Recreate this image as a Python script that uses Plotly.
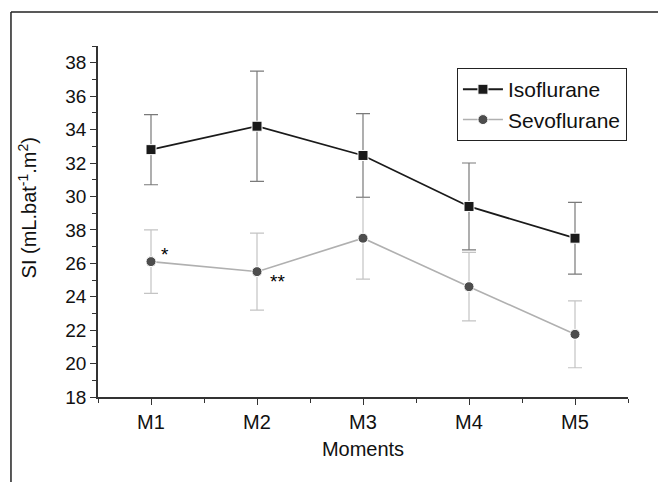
import plotly.graph_objects as go

moments = ["M1", "M2", "M3", "M4", "M5"]
x_pos = [1, 2, 3, 4, 5]

iso_mean = [32.8, 34.2, 32.45, 29.4, 27.5]
iso_sd = [2.1, 3.3, 2.5, 2.6, 2.15]

sevo_mean = [26.1, 25.5, 27.5, 24.6, 21.75]
sevo_sd = [1.9, 2.3, 2.45, 2.05, 2.0]

y_tickvals = [18, 20, 22, 24, 26, 28, 30, 32, 34, 36, 38]
y_ticktext = ["18", "20", "22", "24", "26", "38", "30", "32", "34", "36", "38"]

FONT = "Liberation Sans, Arial, sans-serif"

fig = go.Figure()

fig.add_trace(go.Scatter(
    x=x_pos, y=sevo_mean, name="Sevoflurane", mode="lines+markers",
    line=dict(color="#b0b0b0", width=1.6),
    marker=dict(symbol="circle", size=10, color="#4d4d4d", line=dict(color="white", width=1)),
    error_y=dict(type="data", array=sevo_sd, visible=True, color="#c4c4c4", thickness=1.2, width=7),
))
fig.add_trace(go.Scatter(
    x=x_pos, y=iso_mean, name="Isoflurane", mode="lines+markers",
    line=dict(color="#1a1a1a", width=1.8),
    marker=dict(symbol="square", size=10, color="#1a1a1a", line=dict(color="white", width=1)),
    error_y=dict(type="data", array=iso_sd, visible=True, color="#7a7a7a", thickness=1.2, width=7),
))

# significance markers next to Sevoflurane points
fig.add_annotation(x=x_pos[0] + 0.13, y=sevo_mean[0] + 0.45, text="*", showarrow=False,
                   font=dict(family=FONT, size=19, color="black"))
fig.add_annotation(x=x_pos[1] + 0.19, y=sevo_mean[1] - 0.6, text="**", showarrow=False,
                   font=dict(family=FONT, size=19, color="black"))

# y-axis title placed as rotated text
fig.add_annotation(xref="paper", yref="paper", x=-0.134, y=0.54, xanchor="center", yanchor="middle",
                   text="SI (mL.bat<sup>-1</sup>.m<sup>2</sup>)", textangle=-90, showarrow=False,
                   font=dict(family=FONT, size=20, color="#111"))

# outer frame (top and left edges)
fig.add_shape(type="line", xref="paper", yref="paper", x0=-0.1642, x1=1.06, y0=1.0969, y1=1.0969,
              line=dict(color="#222", width=1.5))
fig.add_shape(type="line", xref="paper", yref="paper", x0=-0.1642, x1=-0.1642, y0=1.0969, y1=-0.25,
              line=dict(color="#222", width=1.5))

fig.update_layout(
    width=658, height=482,
    margin=dict(l=98, r=30, t=46, b=85),
    paper_bgcolor="white", plot_bgcolor="white",
    font=dict(family=FONT, color="#111", size=18),
    legend=dict(
        x=0.998, y=0.937, xanchor="right", yanchor="top",
        bordercolor="#222", borderwidth=1, bgcolor="white",
        font=dict(family=FONT, size=21, color="#111"),
        traceorder="reversed", itemwidth=40, tracegroupgap=0,
    ),
    showlegend=True,
)

fig.update_xaxes(
    range=[0.5, 5.5], tickmode="array", tickvals=x_pos, ticktext=moments,
    showline=True, linecolor="#333", linewidth=1.5, mirror=False,
    ticks="outside", ticklen=6, tickwidth=1.3, tickcolor="#333",
    showgrid=False, zeroline=False,
    tickfont=dict(family=FONT, size=20, color="#111"),
    minor=dict(tickvals=[0.5, 1.5, 2.5, 3.5, 4.5, 5.5], ticks="outside", ticklen=4,
               tickwidth=1.2, tickcolor="#333", showgrid=False),
    title=dict(text="Moments", font=dict(family=FONT, size=20, color="#111"), standoff=10),
)
fig.update_yaxes(
    range=[18, 39], tickmode="array", tickvals=y_tickvals, ticktext=y_ticktext,
    showline=True, linecolor="#333", linewidth=1.5,
    ticks="outside", ticklen=6, tickwidth=1.3, tickcolor="#333",
    showgrid=False, zeroline=False,
    tickfont=dict(family=FONT, size=19, color="#111"),
    minor=dict(dtick=1, tick0=18, ticks="outside", ticklen=4, tickwidth=1.2,
               tickcolor="#333", showgrid=False),
)

fig.write_html("out.html")
